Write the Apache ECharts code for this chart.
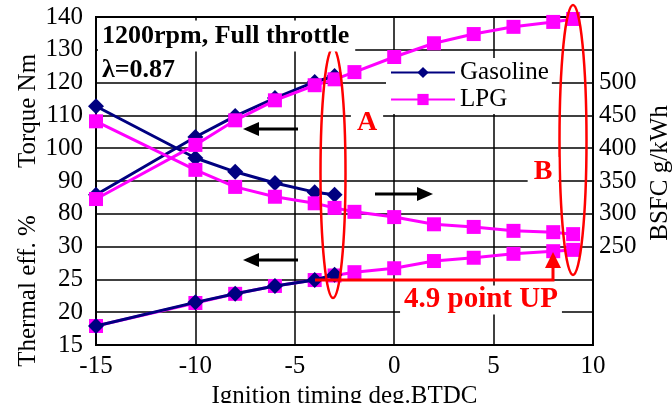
<!DOCTYPE html>
<html>
<head>
<meta charset="utf-8">
<script src="https://cdn.jsdelivr.net/npm/echarts@6/dist/echarts.min.js"></script>
<style>
  html, body { margin: 0; padding: 0; background: #fff; }
  #chart { width: 672px; height: 403px; }
</style>
</head>
<body>
<div id="chart"></div>
<script>
// ignition timing (deg BTDC)
const gasTiming = [-15, -10, -8, -6, -4, -3]
const lpgTiming = [-15, -10, -8, -6, -4, -3, -2, 0, 2, 4, 6, 8, 9]

// torque Nm
const gasTorque = [85.8, 103.4, 109.8, 115.3, 120.2, 122.0]
const lpgTorque = [84.5, 101.0, 108.5, 114.6, 119.2, 121.0, 123.2, 127.8, 132.0, 134.8, 137.0, 138.5, 139.4]

// BSFC g/kWh
const gasBsfc = [464, 385, 364, 347, 333, 329]
const lpgBsfc = [441, 367, 341, 326, 316, 309, 303, 295, 284, 280, 274, 272, 269]

// thermal efficiency %
const gasEff = [17.9, 21.5, 22.8, 24.0, 24.9, 25.7]
const lpgEff = [17.9, 21.4, 22.8, 24.0, 24.9, 25.6, 26.1, 26.7, 27.8, 28.3, 28.9, 29.3, 29.5]

const FONT = 'Liberation Serif'
const NAVY = '#000080'
const PINK = '#ff00ff'
const RED = '#ff0000'

const pairs = (xs, ys) => xs.map((x, i) => [x, ys[i]])

const chart = echarts.init(document.getElementById('chart'))

const gasStyle = {
  name: 'Gasoline',
  type: 'line',
  symbol: 'diamond',
  symbolSize: 16,
  lineStyle: { color: NAVY, width: 3 },
  itemStyle: { color: NAVY },
  animation: false
}
const lpgStyle = {
  name: 'LPG',
  type: 'line',
  symbol: 'rect',
  symbolSize: 14,
  lineStyle: { color: PINK, width: 3 },
  itemStyle: { color: PINK },
  animation: false
}

const axisText = { fontFamily: FONT, fontSize: 25, color: '#000' }

chart.setOption({
  animation: false,
  grid: {
    left: 96, right: 79, top: 17, bottom: 58,
    containLabel: false,
    outerBoundsMode: 'none',
    show: true, borderColor: '#000', borderWidth: 2
  },
  legend: {
    data: ['Gasoline', 'LPG'],
    orient: 'vertical',
    left: 386, top: 58,
    itemWidth: 64, itemHeight: 14, itemGap: 2,
    backgroundColor: '#fff',
    padding: [2, 3, 2, 4],
    textStyle: { fontFamily: FONT, fontSize: 25, color: '#000' }
  },
  xAxis: {
    type: 'value',
    min: -15, max: 10, interval: 5,
    axisLine: { show: false },
    axisTick: { show: false },
    axisLabel: Object.assign({ margin: 9 }, axisText),
    splitLine: { lineStyle: { color: '#000', width: 1.5 } },
    name: 'Ignition timing deg.BTDC',
    nameLocation: 'middle',
    nameGap: 36,
    nameTextStyle: axisText
  },
  yAxis: [
    {
      // torque
      type: 'value',
      min: 40, max: 140, interval: 10,
      position: 'left',
      axisLine: { show: false },
      axisTick: { show: false },
      axisLabel: Object.assign({ margin: 13, formatter: v => (v >= 80 ? String(v) : '') }, axisText),
      splitLine: { lineStyle: { color: '#000', width: 1.5 } }
    },
    {
      // thermal efficiency
      type: 'value',
      min: 15, max: 65, interval: 5,
      position: 'left',
      axisLine: { show: false },
      axisTick: { show: false },
      axisLabel: Object.assign({ margin: 13, formatter: v => (v <= 30 ? String(v) : '') }, axisText),
      splitLine: { show: false }
    },
    {
      // BSFC
      type: 'value',
      min: 100, max: 600, interval: 50,
      position: 'right',
      axisLine: { show: false },
      axisTick: { show: false },
      axisLabel: Object.assign({ margin: 6, formatter: v => (v >= 250 && v <= 500 ? String(v) : '') }, axisText),
      splitLine: { show: false }
    }
  ],
  series: [
    Object.assign({}, gasStyle, { yAxisIndex: 0, z: 3, data: pairs(gasTiming, gasTorque) }),
    Object.assign({}, lpgStyle, { yAxisIndex: 0, z: 4, data: pairs(lpgTiming, lpgTorque) }),
    Object.assign({}, gasStyle, { yAxisIndex: 2, z: 3, data: pairs(gasTiming, gasBsfc) }),
    Object.assign({}, lpgStyle, { yAxisIndex: 2, z: 4, data: pairs(lpgTiming, lpgBsfc) }),
    Object.assign({}, lpgStyle, { yAxisIndex: 1, z: 3, data: pairs(lpgTiming, lpgEff) }),
    Object.assign({}, gasStyle, { yAxisIndex: 1, z: 4, data: pairs(gasTiming, gasEff) })
  ],
  graphic: [
    // axis names
    { type: 'text', x: 28, y: 111, rotation: Math.PI / 2, z: 10,
      style: { text: 'Torque Nm', fontFamily: FONT, fontSize: 25, fill: '#000', align: 'center', verticalAlign: 'middle' } },
    { type: 'text', x: 28, y: 291, rotation: Math.PI / 2, z: 10,
      style: { text: 'Thermal eff. %', fontFamily: FONT, fontSize: 25, fill: '#000', align: 'center', verticalAlign: 'middle' } },
    { type: 'text', x: 660, y: 173, rotation: Math.PI / 2, z: 10,
      style: { text: 'BSFC g/kWh', fontFamily: FONT, fontSize: 25, fill: '#000', align: 'center', verticalAlign: 'middle' } },
    // red ellipses
    { type: 'ellipse', z: 20, shape: { cx: 333, cy: 173, rx: 12.5, ry: 125 },
      style: { fill: 'none', stroke: RED, lineWidth: 2.5 } },
    { type: 'ellipse', z: 20, shape: { cx: 573, cy: 140, rx: 13.5, ry: 135 },
      style: { fill: 'none', stroke: RED, lineWidth: 2.5 } },
    // title boxes
    { type: 'text', x: 98, y: 36, z: 30,
      style: { text: '1200rpm, Full throttle', fontFamily: FONT, fontWeight: 'bold', fontSize: 26, fill: '#000',
        verticalAlign: 'middle', backgroundColor: '#fff', padding: [3, 6, 2, 4] } },
    { type: 'text', x: 102, y: 70, z: 30,
      style: { text: 'λ=0.87', fontFamily: FONT, fontWeight: 'bold', fontSize: 26, fill: '#000', verticalAlign: 'middle' } },
    // A / B labels
    { type: 'text', x: 367, y: 123, z: 30,
      style: { text: 'A', fontFamily: FONT, fontWeight: 'bold', fontSize: 28, fill: RED, align: 'center', verticalAlign: 'middle',
        backgroundColor: '#fff', padding: [2, 6, 0, 6] } },
    { type: 'text', x: 543, y: 172, z: 30,
      style: { text: 'B', fontFamily: FONT, fontWeight: 'bold', fontSize: 28, fill: RED, align: 'center', verticalAlign: 'middle',
        backgroundColor: '#fff', padding: [2, 6, 0, 6] } },
    // 4.9 point UP
    { type: 'polyline', z: 25, shape: { points: [[315, 280], [553, 280], [553, 266]] },
      style: { fill: 'none', stroke: RED, lineWidth: 3 } },
    { type: 'polygon', z: 25, shape: { points: [[545, 268], [561, 268], [553, 252]] },
      style: { fill: RED } },
    { type: 'text', x: 481, y: 300, z: 30,
      style: { text: '4.9 point UP', fontFamily: FONT, fontWeight: 'bold', fontSize: 29, fill: RED, align: 'center', verticalAlign: 'middle',
        backgroundColor: '#fff', padding: [0, 4, 0, 4] } },
    // direction arrows
    { type: 'line', z: 25, shape: { x1: 256, y1: 129, x2: 298, y2: 129 }, style: { stroke: '#000', lineWidth: 3 } },
    { type: 'polygon', z: 25, shape: { points: [[243, 129], [259, 122], [259, 136]] }, style: { fill: '#000' } },
    { type: 'line', z: 25, shape: { x1: 256, y1: 260, x2: 298, y2: 260 }, style: { stroke: '#000', lineWidth: 3 } },
    { type: 'polygon', z: 25, shape: { points: [[243, 260], [259, 253], [259, 267]] }, style: { fill: '#000' } },
    { type: 'line', z: 25, shape: { x1: 375, y1: 194, x2: 419, y2: 194 }, style: { stroke: '#000', lineWidth: 3 } },
    { type: 'polygon', z: 25, shape: { points: [[433, 194], [417, 187], [417, 201]] }, style: { fill: '#000' } }
  ]
})
</script>
</body>
</html>
